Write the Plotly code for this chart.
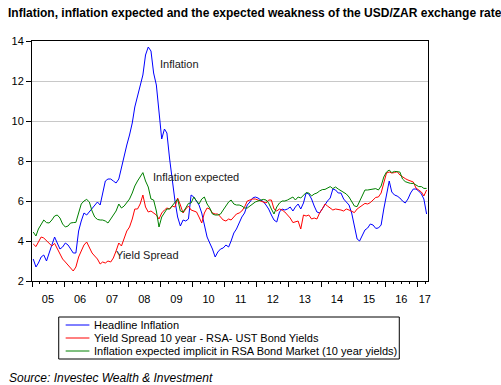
import pandas as pd
import plotly.graph_objects as go

start_month = "2005-01"
n_months = 148

headline_inflation = [
    3.1, 2.7, 2.9, 3.2, 3.3, 3.0, 3.4, 3.8, 4.2, 3.9, 3.6, 3.7,
    3.9, 3.8, 3.6, 3.4, 3.4, 4.5, 5.0, 5.4, 5.3, 5.45, 5.6, 5.8,
    5.95, 5.8, 6.3, 7.0, 7.1, 7.1, 7.0, 6.9, 7.1, 7.7, 8.3, 8.8,
    9.3, 9.9, 10.7, 11.2, 11.7, 12.3, 13.3, 13.7, 13.5, 12.4, 11.8, 10.3,
    9.1, 9.6, 9.4, 8.1, 7.0, 6.0, 5.2, 4.75, 5.05, 5.0, 5.1, 6.3,
    6.2, 5.95, 5.8, 5.4, 4.8, 4.2, 3.9, 3.6, 3.2, 3.45, 3.6, 3.65,
    3.8, 3.7, 4.0, 4.4, 4.6, 4.9, 5.2, 5.4, 5.8, 5.95, 6.15, 6.2,
    6.15, 6.05, 5.97, 5.8, 5.6, 5.3, 5.05, 4.95, 5.45, 5.6, 5.55, 5.6,
    5.7, 5.5, 5.7, 5.85, 5.6, 5.9, 6.4, 6.35, 6.1, 5.75, 5.45, 5.4,
    5.6, 5.85, 6.0, 6.15, 6.6, 6.55, 6.4, 6.4, 6.1, 5.95, 5.8, 5.4,
    4.8, 4.1, 4.0, 4.3, 4.55, 4.65, 4.85, 4.8, 4.63, 4.65, 4.8, 5.6,
    6.4, 7.0, 6.45, 6.3, 6.25, 6.15, 6.0, 5.9, 6.1, 6.4, 6.6, 6.6,
    6.5, 6.35, 6.1, 5.35,
]

yield_spread = [
    3.85, 3.72, 3.95, 4.2, 4.15, 4.0, 3.85, 3.75, 3.88, 3.6, 3.35, 3.1,
    2.95, 2.8, 2.65, 2.5, 2.7, 3.2, 3.5, 3.8, 3.95, 3.7, 3.4, 3.25,
    3.1, 2.85, 2.95, 2.9, 3.0, 2.95, 3.15, 3.5, 3.9, 3.75, 4.1, 4.5,
    4.7, 5.1, 5.6, 5.6, 5.85, 6.3, 5.7, 5.45, 5.5, 5.4, 5.3, 5.1,
    5.4, 5.55, 5.65, 5.6, 5.75, 5.7, 6.15, 5.8, 5.4, 5.6, 5.75, 5.55,
    5.5, 5.45, 5.2, 4.9, 5.4, 5.65, 5.6, 5.4, 5.35, 5.35, 5.2, 5.05,
    5.0, 5.1, 5.05, 5.2, 5.35, 5.4, 5.5, 5.7, 6.0, 6.05, 6.1, 6.1,
    6.05, 6.0, 5.95, 5.9, 6.05, 6.05, 5.6, 5.5, 5.6, 5.55, 5.45, 5.3,
    5.15, 4.92, 4.95, 5.0, 4.6, 5.3, 5.25, 5.3, 5.1, 5.15, 5.1, 5.4,
    5.6, 5.85, 5.75, 5.63, 5.55, 5.6, 5.58, 5.55, 5.5, 5.6, 5.55, 5.5,
    5.42, 5.6, 5.7, 5.8, 5.88, 5.85, 5.92, 6.05, 6.18, 6.2, 6.4, 6.9,
    7.4, 7.45, 7.4, 7.42, 7.47, 7.3, 7.2, 7.12, 7.05, 7.0, 6.95, 6.65,
    6.55, 6.45, 6.25, 6.55,
]

inflation_expected = [
    4.45, 4.25, 4.6, 4.85, 5.05, 4.92, 4.9, 5.05, 5.25, 5.3, 5.15, 4.85,
    4.7, 4.75, 4.9, 4.92, 4.93, 5.4, 5.85, 6.0, 6.08, 5.95, 5.5, 5.2,
    5.08, 5.05, 5.05, 5.0, 4.9, 5.1, 5.3, 5.5, 5.85, 5.65, 5.75, 5.95,
    6.1, 6.4, 6.75, 7.0, 7.2, 7.42, 7.0, 6.7, 6.1, 6.05, 5.5, 4.7,
    5.2, 5.45, 5.6, 5.6, 5.75, 5.95, 6.1, 5.5, 5.45, 5.65, 5.88, 5.9,
    6.2, 6.0, 5.85, 6.1, 6.2, 5.85, 5.65, 5.35, 5.3, 5.3, 5.35, 5.55,
    5.75, 5.95, 6.05, 5.85, 5.8, 5.8, 5.75, 5.65, 5.65, 5.75, 5.85, 5.95,
    6.0, 6.05, 6.08, 6.05, 5.9, 5.6, 5.35, 5.7, 5.9, 6.0, 6.0, 6.05,
    6.13, 6.2, 6.05, 6.2, 6.15, 6.3, 6.42, 6.4, 6.25, 6.35, 6.4, 6.5,
    6.57, 6.58, 6.63, 6.72, 6.62, 6.7, 6.6, 6.52, 6.45, 6.35, 6.2, 6.0,
    5.75, 5.72, 6.0, 6.3, 6.55, 6.55, 6.58, 6.6, 6.62, 6.55, 6.75, 7.2,
    7.45, 7.55, 7.42, 7.48, 7.45, 7.45, 7.1, 6.97, 6.92, 6.88, 6.88, 6.8,
    6.72, 6.72, 6.63, 6.63,
]

series_names = [
    "Headline Inflation",
    "Yield Spread 10 year - RSA- UST Bond Yields",
    "Inflation expected implicit in RSA Bond Market (10 year yields)",
]
series_colors = ["#0000ff", "#ff0000", "#008000"]

year_labels = ["05", "06", "07", "08", "09", "10", "11", "12", "13", "14", "15", "16", "17"]
y_ticks = [2, 4, 6, 8, 10, 12, 14]

dates = pd.date_range(start_month, periods=n_months, freq="MS") + pd.Timedelta(days=14)
x_start = "2005-01-01"
x_end = "2017-05-01"

label_pos = [f"20{y}-07-01" for y in year_labels[:-1]] + ["2017-03-25"]

W, H = 501, 385
L, T = 28, 41
pw, ph = 400, 240
R = W - L - pw
B = H - T - ph


def px_x(px):
    # picture pixel -> paper fraction
    return (px - L) / pw


def px_y(py):
    return (T + ph - py) / ph


font_fam = "Arial, Liberation Sans, sans-serif"

fig = go.Figure()
for vals, name, col in zip([headline_inflation, yield_spread, inflation_expected],
                           series_names, series_colors):
    fig.add_trace(go.Scatter(x=dates, y=vals, mode="lines",
                             line=dict(color=col, width=1), name=name))
# trace on the label axis so it is drawn
fig.add_trace(go.Scatter(x=[dates[0]], y=[None], xaxis="x2", showlegend=False, hoverinfo="skip"))

fig.update_layout(
    width=W, height=H,
    margin=dict(l=L, r=R, t=T, b=B, pad=0),
    paper_bgcolor="white", plot_bgcolor="white",
    font=dict(family=font_fam, size=11, color="black"),
    showlegend=False,
    xaxis=dict(type="date", range=[x_start, x_end], showgrid=False,
               showline=True, linecolor="black", linewidth=1, mirror=True,
               tick0=x_start, dtick="M12", ticks="outside", ticklen=5,
               tickcolor="black", showticklabels=False, zeroline=False,
               minor=dict(dtick="M3", ticks="outside", ticklen=2, tickcolor="black", showgrid=False)),
    xaxis2=dict(type="date", range=[x_start, x_end], overlaying="x", side="bottom",
                tickmode="array", tickvals=label_pos, ticktext=year_labels,
                ticks="outside", ticklen=8, tickcolor="rgba(0,0,0,0)",
                showgrid=False, showline=False, zeroline=False,
                tickfont=dict(size=11, family=font_fam, color="black")),
    yaxis=dict(range=[2, 14], tickvals=y_ticks, showgrid=True, gridcolor="#c8c8c8",
               gridwidth=1, showline=True, linecolor="black", linewidth=1, mirror=True,
               ticks="outside", ticklen=5, tickcolor="black", zeroline=False,
               tickfont=dict(size=11, family=font_fam, color="black")),
)

annos = [
    dict(text="Inflation", x="2008-12-05", y=12.85, xanchor="left"),
    dict(text="Inflation expected", x="2008-09-10", y=7.22, xanchor="left"),
    dict(text="Yield Spread", x="2007-07-20", y=3.3, xanchor="left"),
]
for a in annos:
    fig.add_annotation(xref="x", yref="y", showarrow=False, yanchor="middle",
                       font=dict(size=11, family=font_fam, color="#202020"), **a)

# Manual legend box
lg_x0, lg_x1, lg_y0, lg_y1 = 55, 399, 317, 359
fig.add_shape(type="rect", xref="paper", yref="paper",
              x0=px_x(lg_x0), x1=px_x(lg_x1), y0=px_y(lg_y1), y1=px_y(lg_y0),
              line=dict(color="black", width=1), fillcolor="white", layer="above")
row_y = [325, 338, 351]
for name, col, ry in zip(series_names, series_colors, row_y):
    fig.add_shape(type="line", xref="paper", yref="paper",
                  x0=px_x(62), x1=px_x(86), y0=px_y(ry), y1=px_y(ry),
                  line=dict(color=col, width=1), layer="above")
    fig.add_annotation(xref="paper", yref="paper", x=px_x(89), y=px_y(ry),
                       xanchor="left", yanchor="middle", text=name, showarrow=False,
                       font=dict(size=11, family=font_fam, color="black"))

fig.add_annotation(xref="paper", yref="paper", x=px_x(2), y=px_y(13), xanchor="left", yanchor="middle",
                   text="<b>Inflation, inflation expected and the expected weakness of the USD/ZAR exchange rate</b>",
                   showarrow=False, font=dict(size=12, family=font_fam, color="black"))
fig.add_annotation(xref="paper", yref="paper", x=px_x(3), y=px_y(378), xanchor="left", yanchor="middle",
                   text="<i>Source: Investec Wealth &amp; Investment</i>",
                   showarrow=False, font=dict(size=12, family=font_fam, color="black"))

fig.write_html("out.html",
               config={"displayModeBar": False},
               post_script="document.body.style.margin='0';document.body.style.overflow='hidden';")
